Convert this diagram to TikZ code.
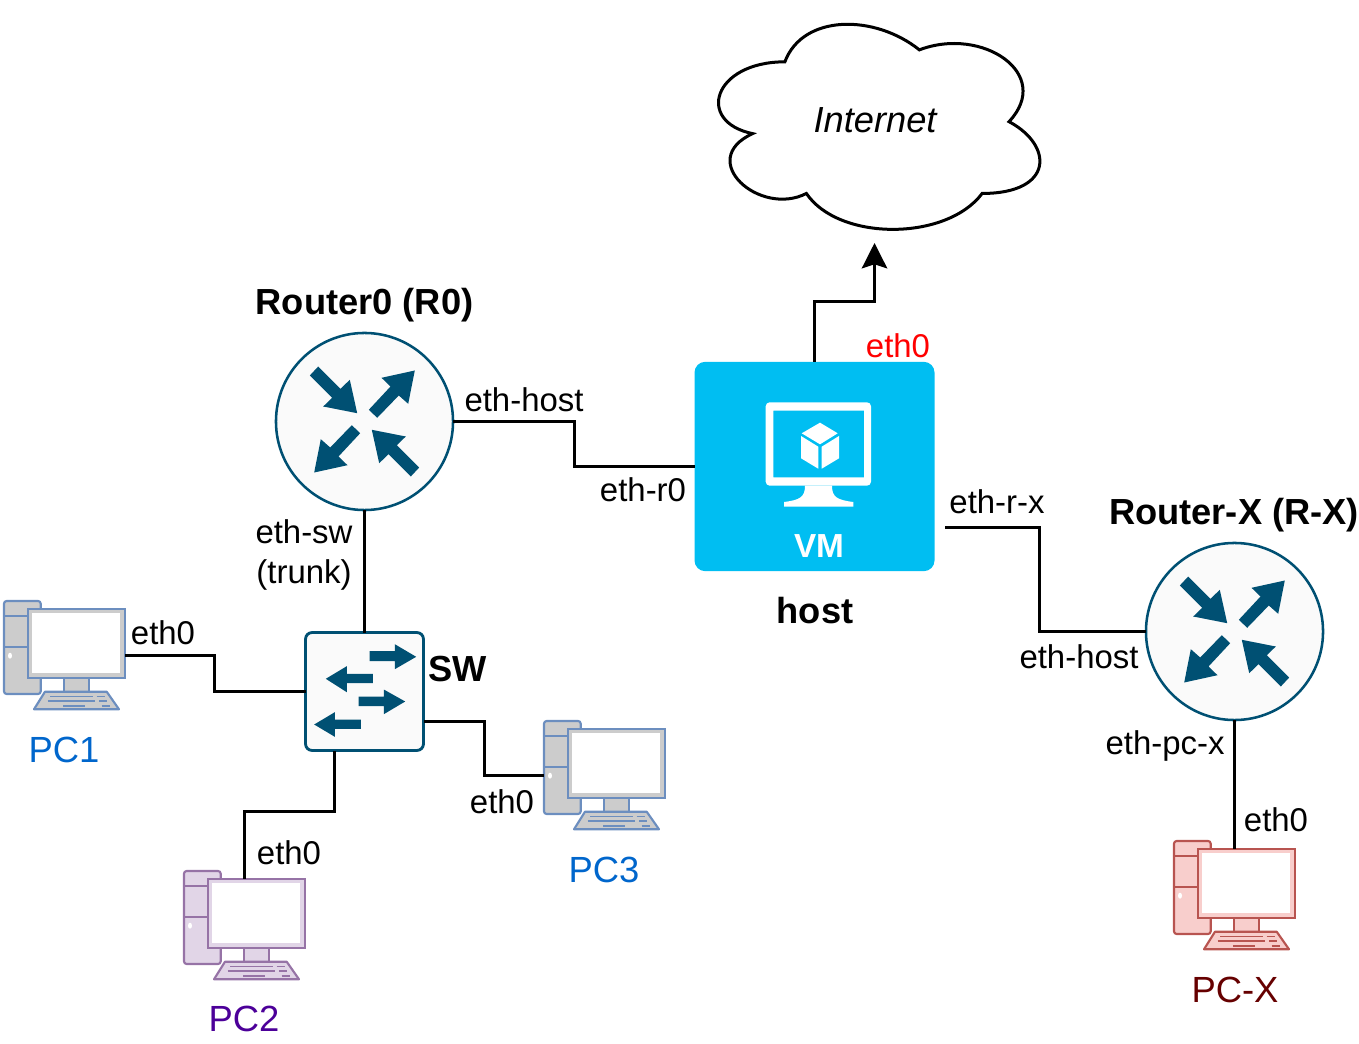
\documentclass[tikz,border=0pt]{standalone}
\usepackage{fontspec}
\setmainfont{Liberation Sans}
\usetikzlibrary{arrows.meta}

\definecolor{icondark}{HTML}{005073}
\definecolor{iconbg}{HTML}{FAFAFA}
\definecolor{vmblue}{HTML}{00BEF2}
\definecolor{pcblue}{HTML}{6C8EBF}
\definecolor{pcgray}{HTML}{CCCCCC}
\definecolor{pcviolet}{HTML}{9673A6}
\definecolor{pclilac}{HTML}{E1D5E7}
\definecolor{pcred}{HTML}{B85450}
\definecolor{pcpink}{HTML}{F8CECC}

\tikzset{
    link/.style={line width=2.25pt},
    routerbox/.style={circle, draw=icondark, fill=iconbg, line width=1.9pt, minimum size=132.8pt, inner sep=0pt, outer sep=0pt},
    switchbox/.style={rectangle, rounded corners=5pt, draw=icondark, fill=iconbg, line width=2.1pt, minimum size=88.5pt, inner sep=0pt, outer sep=0pt},
    vmbox/.style={rectangle, rounded corners=8pt, fill=vmblue, minimum width=180pt, minimum height=157pt, inner sep=0pt, outer sep=0pt},
    lbl/.style={font=\fontsize{24.7}{28}\selectfont, inner sep=0pt},
    hdr/.style={font=\fontsize{27.2}{32}\selectfont\bfseries, inner sep=0pt},
    pclbl/.style={font=\fontsize{27.3}{32}\selectfont, inner sep=0pt},
    pics/pcicon/.style 2 args={code={
        \draw[#1, fill=#2, line width=1.6pt, rounded corners=2pt] (0,0) rectangle (36.7,93);
        \draw[#1, line width=1.6pt] (0,15) -- (36.7,15) (0,46.3) -- (36.7,46.3);
        \fill[white] (6,54.7) ellipse (2 and 3);
        \draw[#1, fill=#2, line width=1.6pt] (60,77) rectangle (85,91);
        \draw[#1, fill=#2, line width=1.6pt, line join=round] (41,90.7) -- (102.7,90.7) -- (115,108.3) -- (30,108.3) -- cycle;
        \draw[#1, line width=1.2pt] (46,95.3) -- (89.3,95.3) (92.7,95.3) -- (101,95.3)
            (43.7,100) -- (91,100) (95,100) -- (103.3,100)
            (59.3,105) -- (81,105) (97.7,105) -- (106,105);
        \draw[#1, fill=#2, line width=1.6pt] (24.3,8) rectangle (121,77.3);
        \fill[white] (28.3,12.3) rectangle (116,72.3);
        \coordinate (-east) at (121,54.5);
        \coordinate (-west) at (0,54.5);
        \coordinate (-north) at (60.5,8);
    }},
}

\begin{document}
\begin{tikzpicture}[x=0.75pt, y=-0.75pt, line join=miter]
    \useasboundingbox (0,0) rectangle (1359,1044);

    % cloud
    \begin{scope}[shift={(695.2,2)}, x=2.69pt, y=-1.795pt]
        \draw[line width=2.25pt, fill=white] (25,25) .. controls (5,25) and (0,50) .. (16,55)
            .. controls (0,66) and (18,90) .. (31,80)
            .. controls (40,100) and (70,100) .. (80,80)
            .. controls (100,80) and (100,60) .. (87.5,50)
            .. controls (100,30) and (80,10) .. (62.5,20)
            .. controls (50,5) and (30,5) .. (25,25) -- cycle;
    \end{scope}
    \node[font=\fontsize{27.2}{32}\selectfont\itshape, inner sep=0pt] (internet) at (875,120) {Internet};

    % devices
    \node[routerbox] (r0) at (364.5,421.5) {};
    \node[routerbox] (rx) at (1234.5,631.5) {};
    \node[switchbox] (sw) at (364.5,691.5) {};
    \node[vmbox] (vm) at (814.5,466.5) {};

    \foreach \dev in {r0,rx}
    {
        \begin{scope}[shift={(\dev)}]
            \foreach \ang in {0,180}
            {
                \fill[icondark, rotate=\ang] (-54.7,-46) -- (-46.3,-55) -- (-24,-32.7) -- (-14.7,-41.7) -- (-7.3,-8.3) -- (-41.3,-15) -- (-32.3,-23.7) -- cycle;
                \fill[icondark, rotate=\ang] (50.3,-51) -- (17,-43.7) -- (26,-35) -- (4.3,-11.7) -- (12.7,-3.7) -- (34.3,-26) -- (43.7,-17.7) -- cycle;
            }
        \end{scope}
    }

    \begin{scope}[shift={(sw)}]
        \fill[icondark] (5,-40.3) -- (30.3,-40.3) -- (30.3,-47.3) -- (51.7,-34.7) -- (30.3,-22.3) -- (30.3,-30.3) -- (5,-30.3) -- cycle;
        \fill[icondark] (8.3,-17.7) -- (-17.7,-17.7) -- (-17.7,-25.3) -- (-38.7,-12.7) -- (-17.7,0.7) -- (-17.7,-8.3) -- (8.3,-8.3) -- cycle;
        \fill[icondark] (-6,5) -- (19.3,5) -- (19.3,-2) -- (40.7,10) -- (19.3,22.7) -- (19.3,14.7) -- (-6,14.7) -- cycle;
        \fill[icondark] (-3.7,28) -- (-29.7,28) -- (-29.7,20.7) -- (-50.3,33) -- (-29.7,45.3) -- (-29.7,37.3) -- (-3.7,37.3) -- cycle;
    \end{scope}

    % vm icon
    \fill[white, rounded corners=3pt, even odd rule] (765.7,402.3) rectangle (871,485.7)
        [sharp corners] (773.3,410.7) rectangle (864,477.3);
    \fill[white] (805,485.7) .. controls (805,497) and (800,500) .. (784,502) -- (784,506.7) -- (853.3,506.7) -- (853.3,502) .. controls (837,500) and (832,497) .. (832,485.7) -- cycle;
    \fill[white] (820,422.7) -- (837.7,433.3) -- (820,444.3) -- (801.7,433.3) -- cycle;
    \fill[white] (801,436) -- (818.3,446.7) -- (818.3,468.7) -- (801,458.3) -- cycle;
    \fill[white] (821.7,446.7) -- (839,436) -- (839,458.3) -- (821.7,468.7) -- cycle;

    % computers
    \pic (pc1) at (4,601) {pcicon={pcblue}{pcgray}};
    \pic (pc2) at (184,871) {pcicon={pcviolet}{pclilac}};
    \pic (pc3) at (544,721) {pcicon={pcblue}{pcgray}};
    \pic (pcx) at (1174,841) {pcicon={pcred}{pcpink}};

    % elbows and free ends
    \coordinate (turnhost) at (574.5,440);
    \coordinate (turnnet) at (874.5,301.5);
    \coordinate (netin) at (874.5,243);
    \coordinate (turnpca) at (214.5,670);
    \coordinate (swdown) at (334.5,751);
    \coordinate (turnpcb) at (334.5,811);
    \coordinate (sweast) at (424,721);
    \coordinate (turnpcc) at (484.5,750);
    \coordinate (vmout) at (945,527);
    \coordinate (turnrx) at (1039,580);

    \draw[link] (r0.east) -| (turnhost) |- (vm.west);
    \draw[link] (r0.south) -- (sw.north);
    \draw[link] (pc1-east) -| (turnpca) |- (sw.west);
    \draw[link] (swdown) -- (turnpcb) -| (pc2-north);
    \draw[link] (sweast) -| (turnpcc) |- (pc3-west);
    \draw[link, -{Stealth[length=19pt, width=19pt, inset=3pt]}] (vm.north) |- (turnnet) -- (netin);
    \draw[link] (vmout) -| (turnrx) |- (rx.west);
    \draw[link] (rx.south) -- (pcx-north);

    % labels
    \foreach \name/\x/\y/\txt in {
        lhostr/524/400/eth-host,
        lrzero/643/490/eth-r0,
        lrx/997/502/eth-r-x,
        lhostx/1079/657/eth-host,
        lpcx/1165/746/eth-pc-x,
        lethx/1276/820/eth0,
        lswz/304/532/eth-sw,
        ltrunk/304/575/(trunk),
        letha/163/633/eth0,
        lethc/502/802/eth0,
        lethb/289/853/eth0}
    {
        \node[lbl] (\name) at (\x,\y) {\txt};
    }
    \node[lbl, text=red] (lnet) at (898,346) {eth0};

    \foreach \name/\x/\y/\txt in {
        tzero/364.5/305/Router0 (R0),
        trx/1234/515.5/Router-X (R-X),
        thost/815/611/host,
        tsw/458/669/SW}
    {
        \node[hdr] (\name) at (\x,\y) {\txt};
    }
    \node[font=\fontsize{25}{30}\selectfont\bfseries, text=white, inner sep=0pt] (tvm) at (819,546) {VM};

    \node[pclbl, text={rgb,255:red,0;green,102;blue,204}] (tpca) at (64,750) {PC1};
    \node[pclbl, text={rgb,255:red,76;green,0;blue,153}] (tpcb) at (244,1019) {PC2};
    \node[pclbl, text={rgb,255:red,0;green,102;blue,204}] (tpcc) at (604,870) {PC3};
    \node[pclbl, text={rgb,255:red,102;green,0;blue,0}] (tpcx) at (1235,989.5) {PC-X};
\end{tikzpicture}
\end{document}
